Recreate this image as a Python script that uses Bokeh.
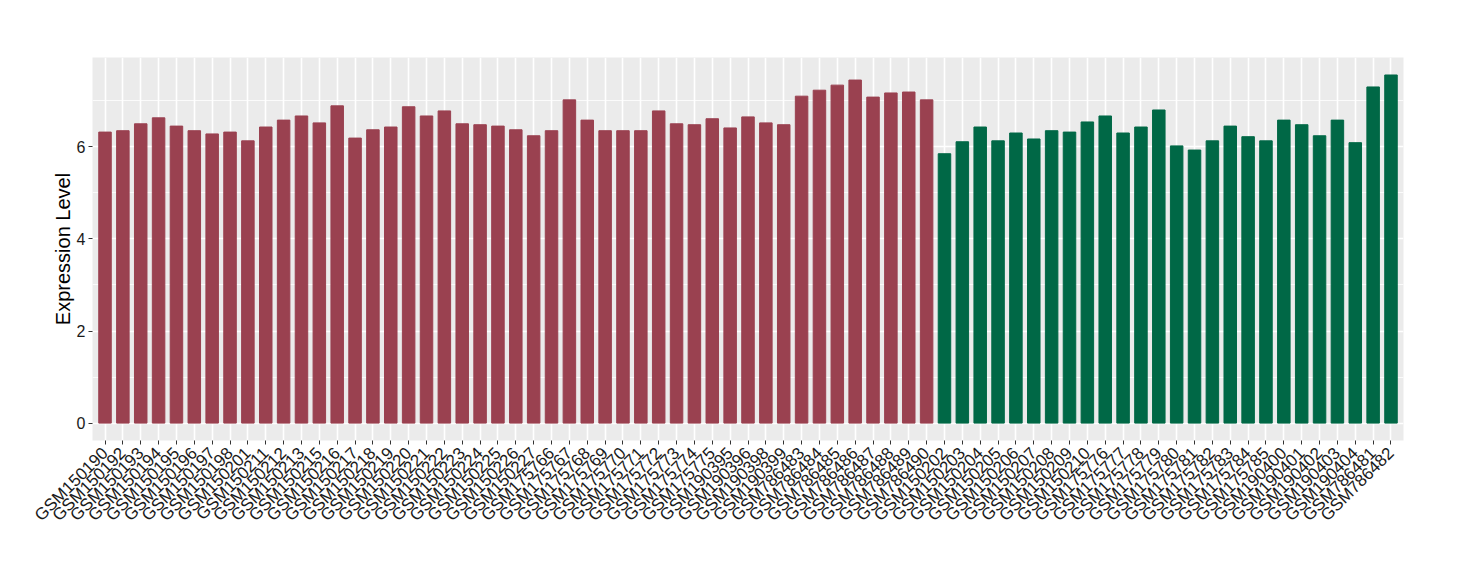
import math
from bokeh.plotting import figure
from bokeh.models import ColumnDataSource, FactorRange, Range1d, FixedTicker
from bokeh.embed import file_html
from bokeh.resources import INLINE

group1_samples = ["GSM150190", "GSM150192", "GSM150193", "GSM150194", "GSM150195", "GSM150196",
                  "GSM150197", "GSM150198", "GSM150201", "GSM150211", "GSM150212", "GSM150213",
                  "GSM150215", "GSM150216", "GSM150217", "GSM150218", "GSM150219", "GSM150220",
                  "GSM150221", "GSM150222", "GSM150223", "GSM150224", "GSM150225", "GSM150226",
                  "GSM150227", "GSM175766", "GSM175767", "GSM175768", "GSM175769", "GSM175770",
                  "GSM175771", "GSM175772", "GSM175773", "GSM175774", "GSM175775", "GSM190395",
                  "GSM190396", "GSM190398", "GSM190399", "GSM786483", "GSM786484", "GSM786485",
                  "GSM786486", "GSM786487", "GSM786488", "GSM786489", "GSM786490"]
group1_values = [6.32, 6.35, 6.50, 6.63, 6.45, 6.35, 6.28, 6.32, 6.13, 6.43, 6.58, 6.67,
                 6.52, 6.89, 6.19, 6.37, 6.43, 6.87, 6.67, 6.78, 6.50, 6.48, 6.45, 6.37,
                 6.24, 6.35, 7.02, 6.58, 6.35, 6.35, 6.35, 6.78, 6.50, 6.48, 6.61, 6.41,
                 6.65, 6.52, 6.48, 7.10, 7.23, 7.34, 7.45, 7.08, 7.17, 7.19, 7.02]

group2_samples = ["GSM150202", "GSM150203", "GSM150204", "GSM150205", "GSM150206", "GSM150207",
                  "GSM150208", "GSM150209", "GSM150210", "GSM175776", "GSM175777", "GSM175778",
                  "GSM175779", "GSM175780", "GSM175781", "GSM175782", "GSM175783", "GSM175784",
                  "GSM175785", "GSM190400", "GSM190401", "GSM190402", "GSM190403", "GSM190404",
                  "GSM786481", "GSM786482"]
group2_values = [5.85, 6.11, 6.43, 6.13, 6.30, 6.17, 6.35, 6.32, 6.54, 6.67, 6.30, 6.43,
                 6.80, 6.02, 5.93, 6.13, 6.45, 6.22, 6.13, 6.58, 6.48, 6.24, 6.58, 6.09,
                 7.30, 7.56]

group_colors = ["#9A4150", "#006846"]

samples = group1_samples + group2_samples
values = group1_values + group2_values
colors = [group_colors[0]] * len(group1_samples) + [group_colors[1]] * len(group2_samples)

source = ColumnDataSource(dict(x=samples, top=values, color=colors))

p = figure(
    width=1444, height=564,
    x_range=FactorRange(factors=samples, range_padding=0.2, range_padding_units="absolute"),
    y_range=Range1d(-0.378, 7.94),
    output_backend="svg", toolbar_location=None,
    min_border_left=92, min_border_right=41, min_border_top=57, min_border_bottom=124,
)
p.vbar(x="x", top="top", width=0.7, color="color", source=source)

p.background_fill_color = "#EBEBEB"
p.border_fill_color = "white"
p.outline_line_color = None

p.yaxis.ticker = FixedTicker(ticks=[0, 2, 4, 6], minor_ticks=[1, 3, 5, 7])
p.ygrid.grid_line_color = "white"
p.ygrid.grid_line_width = 1.6
p.ygrid.minor_grid_line_color = "white"
p.ygrid.minor_grid_line_width = 0.8
p.xgrid.grid_line_color = "white"
p.xgrid.grid_line_width = 1.6

for ax in (p.xaxis, p.yaxis):
    ax.axis_line_color = None
    ax.major_tick_line_color = "#333333"
    ax.major_tick_in = 0
    ax.major_tick_out = 4
    ax.minor_tick_line_color = None
    ax.major_label_text_font = "Liberation Sans"
    ax.major_label_text_color = "#1a1a1a"

p.xaxis.major_label_text_font_size = "17px"
p.yaxis.major_label_text_font_size = "16px"
p.xaxis.major_label_orientation = math.pi / 4
p.xaxis.major_label_standoff = 6
p.yaxis.major_label_standoff = 3
p.yaxis.axis_label = "Expression Level"
p.yaxis.axis_label_text_font = "Liberation Sans"
p.yaxis.axis_label_text_font_style = "normal"
p.yaxis.axis_label_text_font_size = "20px"
p.yaxis.axis_label_text_color = "black"
p.yaxis.axis_label_standoff = 0

open("out.html", "w").write(file_html(p, INLINE))
